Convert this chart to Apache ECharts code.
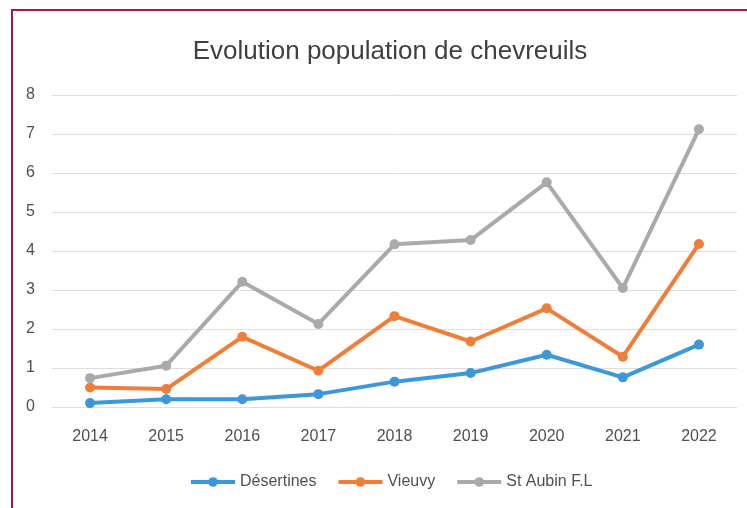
<!DOCTYPE html>
<html>
<head>
<meta charset="utf-8">
<script src="https://cdn.jsdelivr.net/npm/echarts@6/dist/echarts.min.js"></script>
<style>
  html, body { margin: 0; padding: 0; background: #fff; }
  #main { width: 747px; height: 508px; }
</style>
</head>
<body>
<div id="main"></div>
<script>
const years = ["2014", "2015", "2016", "2017", "2018", "2019", "2020", "2021", "2022"];
const desertines = [0.1, 0.2, 0.2, 0.33, 0.65, 0.87, 1.34, 0.76, 1.6];
const vieuvy = [0.5, 0.46, 1.8, 0.93, 2.33, 1.68, 2.53, 1.29, 4.18];
const stAubin = [0.74, 1.06, 3.21, 2.13, 4.17, 4.28, 5.76, 3.05, 7.12];
const seriesNames = ["Désertines", "Vieuvy", "St Aubin F.L"];
const colors = ["#3d98da", "#ef7e38", "#aaaaaa"];

const myChart = echarts.init(document.getElementById("main"));

function makeSeries(name, data, color) {
  return {
    name: name,
    type: "line",
    data: data,
    symbol: "circle",
    symbolSize: 10,
    lineStyle: { width: 4, color: color },
    itemStyle: { color: color },
    z: 3
  };
}

const option = {
  backgroundColor: "#fff",
  animation: false,
  color: colors,
  title: {
    text: "Evolution population de chevreuils",
    left: 385,
    textAlign: "center",
    top: 34,
    textStyle: {
      fontFamily: "Liberation Sans",
      fontSize: 26,
      fontWeight: "normal",
      color: "#404040"
    }
  },
  grid: {
    left: 52,
    right: 10,
    top: 95,
    bottom: 101,
    containLabel: false
  },
  legend: {
    top: 469,
    left: 184,
    itemWidth: 44,
    itemHeight: 12,
    itemGap: 20,
    data: seriesNames,
    lineStyle: { width: 4 },
    textStyle: {
      fontFamily: "Liberation Sans",
      fontSize: 16,
      color: "#505050"
    }
  },
  xAxis: {
    type: "category",
    data: years,
    boundaryGap: true,
    axisLine: { show: false },
    axisTick: { show: false },
    axisLabel: {
      margin: 22,
      fontFamily: "Liberation Sans",
      fontSize: 16,
      color: "#505050"
    }
  },
  yAxis: {
    type: "value",
    min: 0,
    max: 8,
    interval: 1,
    axisLine: { show: false },
    axisTick: { show: false },
    axisLabel: {
      margin: 17,
      fontFamily: "Liberation Sans",
      fontSize: 16,
      color: "#505050"
    },
    splitLine: { lineStyle: { color: "#dedede", width: 1 } }
  },
  graphic: [
    {
      type: "polyline",
      shape: { points: [[12, 508], [12, 10], [747, 10]] },
      style: { stroke: "#a3193c", lineWidth: 2, fill: null },
      silent: true
    }
  ],
  series: [
    makeSeries(seriesNames[0], desertines, colors[0]),
    makeSeries(seriesNames[1], vieuvy, colors[1]),
    makeSeries(seriesNames[2], stAubin, colors[2])
  ]
};

myChart.setOption(option);
</script>
</body>
</html>
